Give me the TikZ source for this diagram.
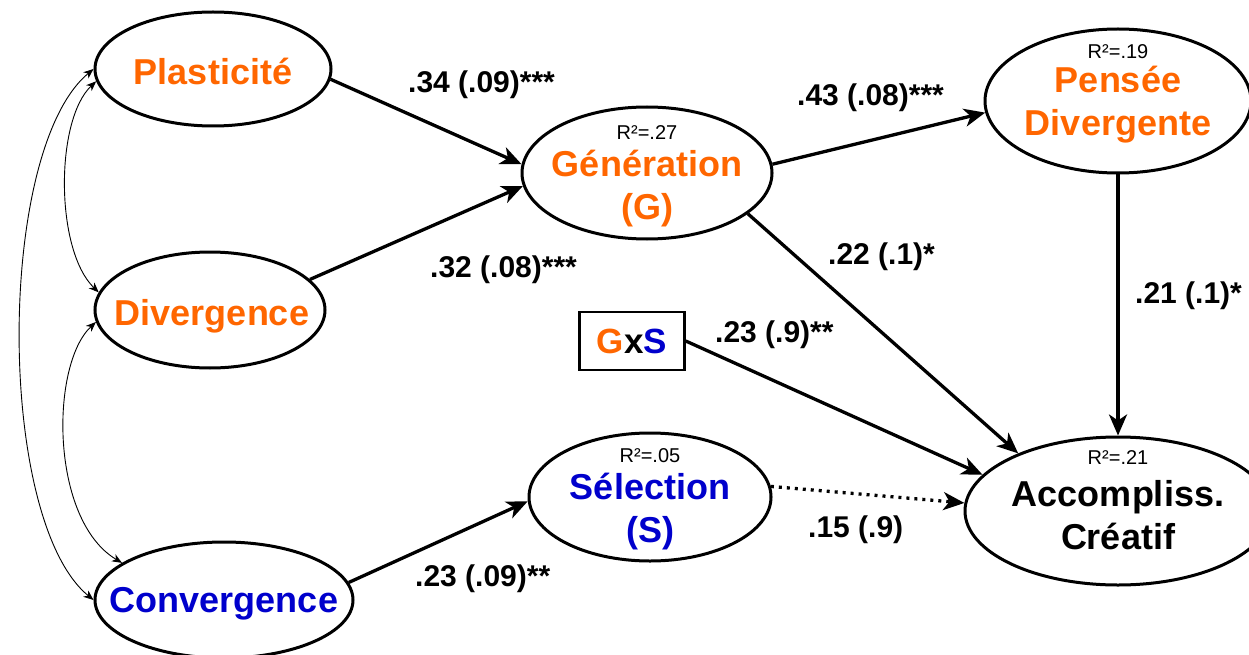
\documentclass[tikz,border=0pt]{standalone}
\usepackage{fontspec}
\setmainfont{Liberation Sans}
\usetikzlibrary{shapes.geometric,arrows.meta,calc}
\definecolor{orng}{RGB}{255,102,0}
\definecolor{blu}{RGB}{0,0,204}
\begin{document}
\begin{tikzpicture}[x=1pt,y=-1pt,
  lat/.style={ellipse,draw,line width=3pt,inner sep=0pt},
  nt/.style={font=\bfseries\fontsize{36}{43}\selectfont,align=center,inner sep=0pt},
  rsq/.style={font=\fontsize{20}{24}\selectfont,inner sep=0pt},
  pathar/.style={line width=3.3pt,-{Stealth[length=21pt,width=18pt,inset=6pt]}},
  cov/.style={line width=0.9pt,{Stealth[length=10pt,width=8pt,inset=3pt]}-{Stealth[length=10pt,width=8pt,inset=3pt]}},
  coef/.style={font=\bfseries\fontsize{30}{34}\selectfont,inner sep=0pt,anchor=base west}]
\useasboundingbox (0,0) rectangle (1249,655);
\clip (0,0) rectangle (1249,655);

% latent variables
\node[lat,minimum width=236pt,minimum height=114pt] (plast) at (213,69) {};
\node[nt,text=orng] (plast-t) at (213,71) {Plasticité};
\node[lat,minimum width=230pt,minimum height=116pt] (diverg) at (210,310) {};
\node[nt,text=orng] (diverg-t) at (212,316) {Divergence};
\node[lat,minimum width=258pt,minimum height=116pt] (conv) at (224,600) {};
\node[nt,text=blu] (conv-t) at (224,604) {Convergence};

\node[lat,minimum width=250pt,minimum height=132pt] (gen) at (647,173) {};
\node[rsq] (gen-r) at (647,133) {R²=.27};
\node[nt,text=orng] (gen-t) at (647,189) {Génération\\(G)};

\node[lat,minimum width=266pt,minimum height=144pt] (pens) at (1118,101) {};
\node[rsq] (pens-r) at (1118,52) {R²=.19};
\node[nt,text=orng] (pens-t) at (1118,105) {Pensée\\Divergente};

\node[lat,minimum width=242pt,minimum height=128pt] (sel) at (650,497) {};
\node[rsq] (sel-r) at (650,456) {R²=.05};
\node[nt,text=blu] (sel-t) at (650,512) {Sélection\\(S)};

\node[lat,minimum width=306pt,minimum height=148pt] (acc) at (1118,511) {};
\node[rsq] (acc-r) at (1118,458) {R²=.21};
\node[nt] (acc-t) at (1118,515) {Accompliss.\\Créatif};

\node[draw,line width=2.5pt,minimum width=105pt,minimum height=58pt,inner sep=0pt,
      font=\bfseries\fontsize{35}{42}\selectfont] (gxs) at (632,341)
      {\textcolor{orng}{G}x\textcolor{blu}{S}};

% structural paths
\draw[pathar] (plast.-5) -- (gen.176);
\draw[pathar] (diverg.17) -- (gen.186);
\draw[pathar] (gen.4) -- (pens.185);
\draw[pathar] (gen.-22) -- (acc.150);
\draw[pathar] (pens.south) -- (acc.north);
\draw[pathar] (gxs.east) -- (acc.165);
\draw[pathar,dash pattern=on 3pt off 5pt] (sel.5) -- (acc.177);
\draw[pathar] (conv.8) -- (sel.182);

% covariances
\draw[cov] (plast.180) .. controls (-4,150) and (-4,520) .. (conv.180);
\draw[cov] (plast.186) .. controls (55,120) and (55,250) .. (diverg.171);
\draw[cov] (diverg.186) .. controls (50,365) and (50,520) .. (conv.160);

% coefficients
\node[coef] (c1) at (408,93) {.34 (.09)***};
\node[coef] (c2) at (430,277) {.32 (.08)***};
\node[coef] (c3) at (797,106) {.43 (.08)***};
\node[coef] (c4) at (828,264) {.22 (.1)*};
\node[coef] (c5) at (1135,303) {.21 (.1)*};
\node[coef] (c6) at (715,342) {.23 (.9)**};
\node[coef] (c7) at (808,537) {.15 (.9)};
\node[coef] (c8) at (415,586) {.23 (.09)**};
\end{tikzpicture}
\end{document}
